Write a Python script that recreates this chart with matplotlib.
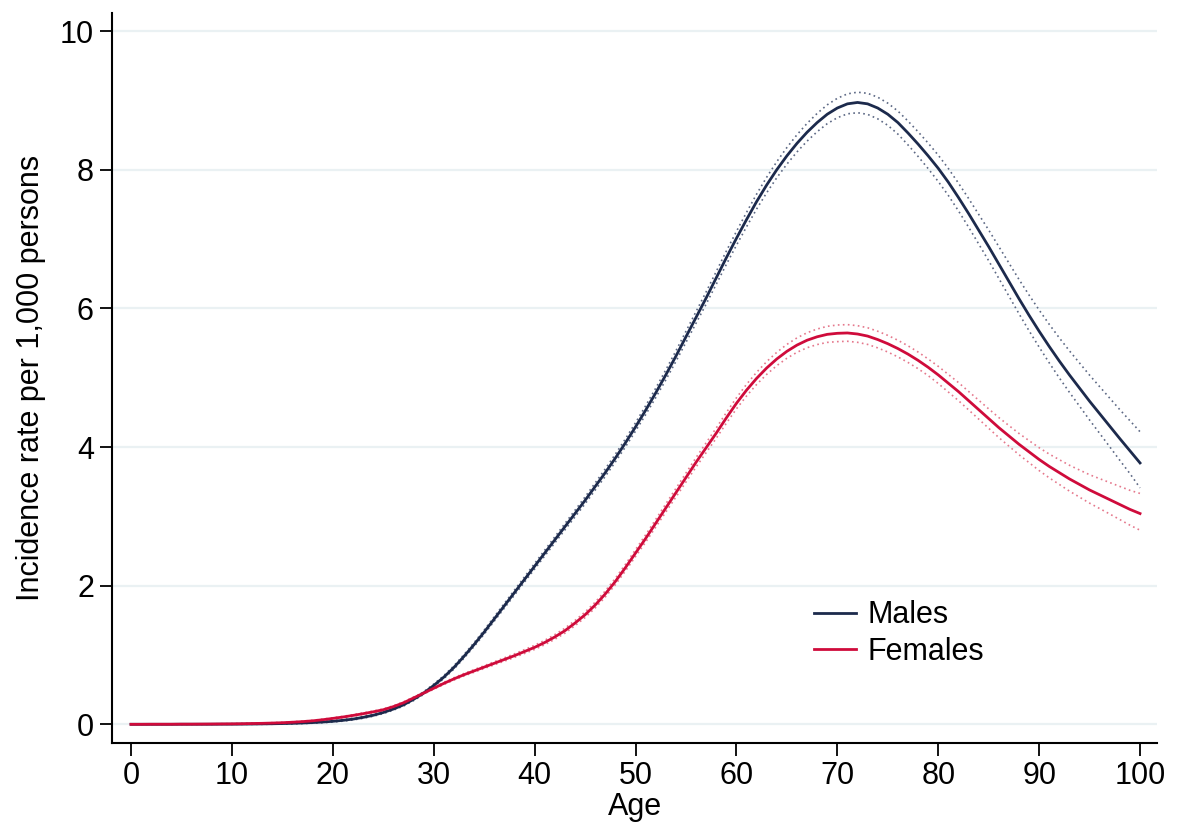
import numpy as np
import matplotlib
matplotlib.use("Agg")
import matplotlib.pyplot as plt

plt.rcParams['font.family'] = ['Liberation Sans', 'DejaVu Sans']

# fitted incidence per 1,000 persons, one value per year of age
age = np.arange(0, 101)

males = [0.000, 0.000, 0.000, 0.000, 0.000, 0.001, 0.001, 0.001, 0.001, 0.002,
         0.002, 0.003, 0.004, 0.006, 0.008, 0.011, 0.014, 0.019, 0.025, 0.033,
         0.043, 0.057, 0.075, 0.10, 0.13, 0.17, 0.22, 0.28, 0.36, 0.45,
         0.56, 0.68, 0.82, 0.98, 1.15, 1.33, 1.52, 1.71, 1.90, 2.09,
         2.28, 2.47, 2.66, 2.85, 3.04, 3.23, 3.43, 3.63, 3.84, 4.06,
         4.29, 4.53, 4.78, 5.04, 5.31, 5.59, 5.87, 6.15, 6.44, 6.73,
         7.01, 7.28, 7.54, 7.78, 8.00, 8.20, 8.38, 8.54, 8.68, 8.80,
         8.89, 8.95, 8.97, 8.95, 8.89, 8.80, 8.68, 8.53, 8.37, 8.20,
         8.02, 7.82, 7.60, 7.37, 7.13, 6.89, 6.64, 6.39, 6.14, 5.90,
         5.67, 5.45, 5.24, 5.04, 4.85, 4.66, 4.48, 4.30, 4.12, 3.945,
         3.77]

females = [0.000, 0.000, 0.001, 0.001, 0.001, 0.002, 0.002, 0.003, 0.004, 0.005,
           0.006, 0.008, 0.011, 0.014, 0.018, 0.023, 0.030, 0.039, 0.050, 0.066,
           0.085, 0.105, 0.128, 0.153, 0.18, 0.21, 0.255, 0.31, 0.38, 0.45,
           0.52, 0.59, 0.655, 0.715, 0.77, 0.825, 0.88, 0.935, 0.99, 1.05,
           1.11, 1.18, 1.26, 1.35, 1.46, 1.58, 1.72, 1.88, 2.06, 2.26,
           2.47, 2.68, 2.90, 3.12, 3.34, 3.56, 3.78, 3.99, 4.20, 4.42,
           4.63, 4.82, 4.99, 5.14, 5.27, 5.38, 5.47, 5.54, 5.59, 5.625,
           5.64, 5.645, 5.63, 5.60, 5.55, 5.49, 5.42, 5.34, 5.25, 5.15,
           5.04, 4.92, 4.80, 4.67, 4.54, 4.41, 4.28, 4.16, 4.04, 3.93,
           3.82, 3.72, 3.63, 3.54, 3.46, 3.38, 3.31, 3.24, 3.17, 3.10,
           3.04]

# distance from the estimate to the upper / lower 95% CI bound
males_up = ([0.004] * 10 +
            [0.005, 0.005, 0.006, 0.006, 0.007, 0.007, 0.008, 0.008, 0.009, 0.010,
             0.010, 0.011, 0.012, 0.013, 0.014, 0.015, 0.016, 0.017, 0.018, 0.019,
             0.020, 0.022, 0.024, 0.026, 0.028, 0.030, 0.032, 0.034, 0.036, 0.038,
             0.040, 0.042, 0.044, 0.046, 0.048, 0.050, 0.052, 0.054, 0.056, 0.058,
             0.060, 0.064, 0.068, 0.072, 0.076, 0.080, 0.084, 0.088, 0.092, 0.096,
             0.100, 0.104, 0.108, 0.112, 0.116, 0.120, 0.124, 0.128, 0.132, 0.136,
             0.140, 0.144, 0.148, 0.152, 0.156, 0.160, 0.166, 0.172, 0.178, 0.184,
             0.190, 0.198, 0.207, 0.217, 0.228, 0.240, 0.252, 0.265, 0.278, 0.292,
             0.306, 0.320, 0.334, 0.348, 0.362, 0.376, 0.390, 0.404, 0.418, 0.434,
             0.450])
males_dn = (males_up[:80] +
            [0.190, 0.191, 0.193, 0.196, 0.199, 0.203, 0.207, 0.212, 0.217, 0.223,
             0.229, 0.236, 0.243, 0.251, 0.260, 0.271, 0.284, 0.298, 0.313, 0.329,
             0.360])

females_up = ([0.003] * 10 +
              [0.004, 0.004, 0.005, 0.005, 0.006, 0.006, 0.007, 0.007, 0.008, 0.009,
               0.010, 0.010, 0.011, 0.011, 0.012, 0.012, 0.013, 0.013, 0.014, 0.014,
               0.015, 0.016, 0.017, 0.018, 0.019, 0.020, 0.022, 0.024, 0.026, 0.028,
               0.030, 0.032, 0.034, 0.036, 0.038, 0.040, 0.042, 0.044, 0.046, 0.048,
               0.050, 0.053, 0.056, 0.059, 0.062, 0.065, 0.068, 0.071, 0.074, 0.077,
               0.080, 0.084, 0.088, 0.092, 0.096, 0.100, 0.104, 0.108, 0.112, 0.116]
              + [0.120] * 10 +
              [0.124, 0.127, 0.130, 0.133, 0.136, 0.140, 0.145, 0.150, 0.156, 0.162,
               0.170, 0.178, 0.187, 0.197, 0.208, 0.220, 0.233, 0.247, 0.261, 0.275,
               0.290])
females_dn = (females_up[:85] +
              [0.140, 0.143, 0.147, 0.151, 0.155,
               0.160, 0.165, 0.170, 0.176, 0.183, 0.190, 0.198, 0.207, 0.217, 0.228,
               0.240])

males = np.array(males)
females = np.array(females)
males_hi = males + np.array(males_up)
males_lo = np.clip(males - np.array(males_dn), 0, None)
females_hi = females + np.array(females_up)
females_lo = np.clip(females - np.array(females_dn), 0, None)

navy = '#1c2a4c'
red = '#cf0b3b'
fs = 22

fig = plt.figure(figsize=(11.77, 8.3), dpi=100)
ax = fig.add_axes([0.0952, 0.1048, 0.8878, 0.8795])

for y in range(0, 11, 2):
    ax.axhline(y, color='#eaf1f3', lw=1.6, zorder=0)

# CI bounds dotted, estimates solid on top
dots = (0, (1, 2))
ax.plot(age, males_hi, color='#5c6884', lw=1.2, ls=dots, zorder=2)
ax.plot(age, males_lo, color='#5c6884', lw=1.2, ls=dots, zorder=2)
ax.plot(age, females_hi, color='#e5788c', lw=1.2, ls=dots, zorder=2)
ax.plot(age, females_lo, color='#e5788c', lw=1.2, ls=dots, zorder=2)
ax.plot(age, males, color=navy, lw=2.0, label='Males', zorder=3)
ax.plot(age, females, color=red, lw=2.0, label='Females', zorder=3)

ax.set_xlim(-1.88, 101.68)
ax.set_ylim(-0.27, 10.26)
ax.set_xticks(range(0, 101, 10))
ax.set_yticks(range(0, 11, 2))

for s in ['top', 'right']:
    ax.spines[s].set_visible(False)
for s in ['left', 'bottom']:
    ax.spines[s].set_linewidth(1.5)
ax.tick_params(length=9, width=1.3, labelsize=fs, pad=4)

ax.set_xlabel('Age', fontsize=fs, labelpad=1)
ax.set_ylabel('Incidence rate per 1,000 persons', fontsize=fs, labelpad=10)

ax.legend(loc='center left', bbox_to_anchor=(0.672, 0.15), frameon=False,
          fontsize=fs, handlelength=1.35, handletextpad=0.4,
          labelspacing=0.2, borderpad=0, borderaxespad=0)

fig.savefig('out.png', dpi=100)
